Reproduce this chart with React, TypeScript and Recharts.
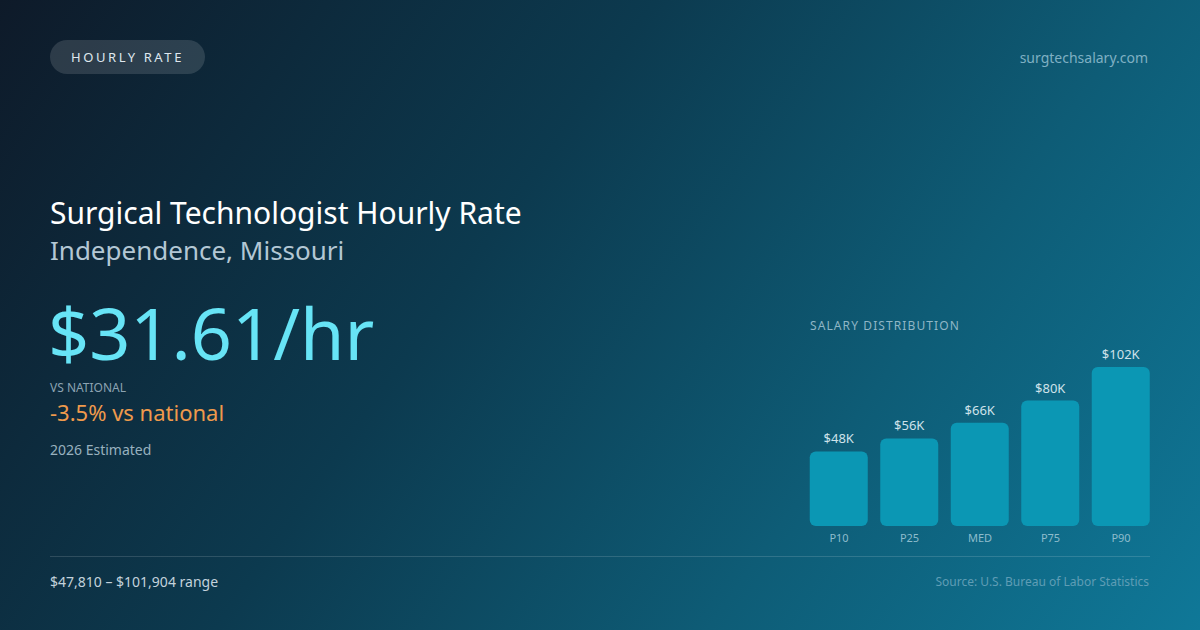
import { BarChart, Bar, XAxis, YAxis, LabelList } from "recharts";

// salary percentiles, in thousands of dollars
const percentiles = ["P10", "P25", "MED", "P75", "P90"];
const salaries = [47.81, 56.1, 66.2, 80.4, 101.9];
const salaryLabels = ["$48K", "$56K", "$66K", "$80K", "$102K"];

const data = percentiles.map((p, i) => ({ name: p, value: salaries[i], label: salaryLabels[i] }));

const FONT = '"Noto Sans", "Open Sans", sans-serif';

export default function App() {
  return (
    <div
      style={{
        position: "absolute",
        left: 0,
        top: 0,
        width: 1200,
        height: 630,
        overflow: "hidden",
        fontFamily: FONT,
        background: "linear-gradient(125deg, #0e1a29 0%, #0c3a4f 40%, #0e5c76 70%, #0f7898 100%)",
      }}
    >
      <style>{"body{margin:0}"}</style>

      {/* pill */}
      <div
        style={{
          position: "absolute",
          left: 50,
          top: 40,
          width: 155,
          height: 34,
          borderRadius: 17,
          background: "rgba(255,255,255,0.13)",
          color: "#dfe7ee",
          fontSize: 13,
          letterSpacing: 2.6,
          display: "flex",
          alignItems: "center",
          justifyContent: "center",
        }}
      >
        HOURLY RATE
      </div>

      <div style={{ position: "absolute", right: 52, top: 48, fontSize: 14, color: "#7fb0c3" }}>
        surgtechsalary.com
      </div>

      <div style={{ position: "absolute", left: 50, top: 193, fontSize: 30, color: "#ffffff", lineHeight: "40px" }}>
        Surgical Technologist Hourly Rate
      </div>
      <div style={{ position: "absolute", left: 50, top: 232, fontSize: 26, color: "#b3c7d4", lineHeight: "36px" }}>
        Independence, Missouri
      </div>

      <div style={{ position: "absolute", left: 48, top: 284, fontSize: 72, color: "#67e4f6", lineHeight: "96px" }}>
        $31.61/hr
      </div>

      <div style={{ position: "absolute", left: 50, top: 380, fontSize: 12, color: "#8ca3b2", lineHeight: "16px" }}>
        VS NATIONAL
      </div>
      <div style={{ position: "absolute", left: 50, top: 397, fontSize: 22, color: "#ef9a4c", lineHeight: "30px" }}>
        -3.5% vs national
      </div>
      <div style={{ position: "absolute", left: 50, top: 440, fontSize: 14, color: "#98b1bf", lineHeight: "20px" }}>
        2026 Estimated
      </div>

      <div
        style={{
          position: "absolute",
          left: 810,
          top: 318,
          fontSize: 12,
          letterSpacing: 1.1,
          color: "#8fb6c6",
          lineHeight: "16px",
        }}
      >
        SALARY DISTRIBUTION
      </div>

      <div style={{ position: "absolute", left: 780, top: 340 }}>
        <BarChart
          width={400}
          height={216}
          data={data}
          margin={{ top: 27, right: 23.75, bottom: 0, left: 23.75 }}
          barCategoryGap={12.5}
        >
          <XAxis
            dataKey="name"
            axisLine={false}
            tickLine={false}
            height={30}
            interval={0}
            tick={{ fontSize: 11, fill: "#8dbccc", fontFamily: FONT }}
          />
          <YAxis hide domain={[0, "dataMax"]} />
          <Bar dataKey="value" fill="#0b97b4" radius={[6, 6, 6, 6]} barSize={58} isAnimationActive={false}>
            <LabelList
              dataKey="label"
              position="top"
              offset={8}
              style={{ fontSize: 13, fill: "#cfe2ea", fontFamily: FONT }}
            />
          </Bar>
        </BarChart>
      </div>

      <div
        style={{
          position: "absolute",
          left: 50,
          top: 556,
          width: 1100,
          height: 1,
          background: "rgba(255,255,255,0.14)",
        }}
      />

      <div style={{ position: "absolute", left: 50, top: 572, fontSize: 14, color: "#c3d2dc", lineHeight: "20px" }}>
        $47,810 – $101,904 range
      </div>
      <div style={{ position: "absolute", right: 51, top: 573, fontSize: 12, color: "#5f9db5", lineHeight: "18px" }}>
        Source: U.S. Bureau of Labor Statistics
      </div>
    </div>
  );
}
